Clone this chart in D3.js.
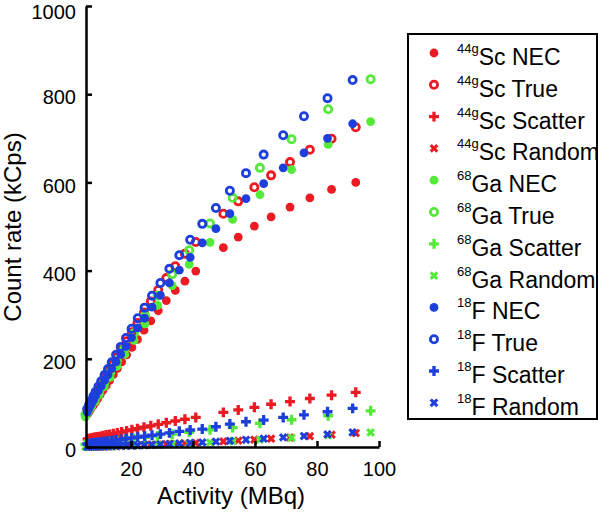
<!DOCTYPE html>
<html><head><meta charset="utf-8">
<script src="https://cdn.jsdelivr.net/npm/d3@7"></script>
<style>body{margin:0;background:#fff}svg{display:block;font-family:"Liberation Sans",Arial,sans-serif}</style>
</head><body><svg id="c" width="598" height="515"></svg>
<script>
// ---- data (activity in MBq, count rates in kCps) ----
const scX = [6.0,6.5,7.1,7.8,8.5,9.2,10.1,11.0,12.0,13.1,14.3,15.6,17.0,18.6,20.3,22.1,24.2,26.4,28.8,31.4,34.3,37.4,40.9,49.8,54.6,59.8,65.2,71.3,77.7,84.7,92.5];
const scNEC = [75,80,87,94,101,109,119,129,139,151,164,178,193,209,226,244,265,286,309,332,355,376,399,452,476,501,522,544,565,584,600];
const scTrue = [85,91,99,107,116,125,136,147,159,173,188,204,221,240,260,281,305,330,356,383,410,438,465,529,557,589,616,646,674,699,725];
const scScatter = [18,19,20,21,22,23,24,25.5,27,28.5,30,32,34,36.5,39,41.5,45,48,51.5,55,59,63,67,78.5,84,90,97,103,110,117.5,124];
const scRandom = [0.5,0.6,0.7,0.8,0.9,1.0,1.1,1.3,1.5,1.7,1.9,2.2,2.5,2.9,3.3,3.7,4.3,4.8,5.5,6.3,7.2,8.2,9.3,12.5,14.4,16.5,18.8,21.5,24.4,27.8,31.7];

const gaX = [5.3,6.2,7.2,8.4,9.8,11.4,13.3,15.5,18.0,21.0,24.5,28.6,33.3,38.8,45.5,52.8,61.6,71.8,83.6,97.3];
const gaNEC = [68,79,90,103,119,137,158,183,210,242,279,321,366,414,464,516,572,629,686,738];
const gaTrue = [73,84,96,110,127,146,169,195,224,258,298,343,392,446,507,565,633,698,766,834];
const gaScatter = [5.8,6.5,7.3,8.3,9.5,10.8,12.4,14.2,16.3,18.8,21.7,25,29,33.5,39,44,53.6,61.8,70.8,82];
const gaRandom = [0.4,0.5,0.6,0.8,1.0,1.3,1.7,2.1,2.6,3.3,4.2,5.3,6.6,8.3,10.5,13.2,16.6,20.9,26.3,33];

const fX = [5.9,6.5,7.2,7.9,8.6,9.5,10.4,11.5,12.6,13.8,15.2,16.7,18.4,20.2,22.2,24.4,26.8,29.5,32.4,35.6,39.1,43.0,47.4,51.9,57.1,62.8,69.1,75.8,83.4,91.5];
const fNEC = [79,88,97,106,116,127,138,151,164,178,193,210,228,248,270,292,317,344,372,401,430,463,495,529,563,597,633,667,700,733];
const fTrue = [86,95,105,115,125,137,149,163,177,192,209,227,247,268,292,316,343,372,404,435,470,506,542,581,621,663,707,750,791,832];
const fScatter = [7.1,7.6,8.3,8.9,9.6,10.4,11.3,12.3,13.3,14.5,15.8,17.2,18.8,20.5,22.4,24.4,26.7,29.2,32,35.5,38.5,40.7,45.9,52,57.2,61,67,73,80,87.6];
const fRandom = [0.5,0.6,0.7,0.8,0.9,1.1,1.2,1.4,1.6,1.9,2.2,2.5,2.9,3.4,3.9,4.5,5.2,6.0,6.9,8.0,9.2,10.6,12.3,14.1,16.3,18.8,21.7,24.9,28.7,33];

const xTicks = [20,40,60,80,100];
const yTicks = [0,200,400,600,800,1000];
const isotopes = ["44g","68","18"];
const elements = ["Sc","Ga","F"];
const kinds = ["NEC","True","Scatter","Random"];
const colors = ["#ea1b22","#55ea3a","#1d3fdc"];

const series = [
  {iso:0, kind:0, x:scX, y:scNEC},{iso:0, kind:1, x:scX, y:scTrue},{iso:0, kind:2, x:scX, y:scScatter},{iso:0, kind:3, x:scX, y:scRandom},
  {iso:1, kind:0, x:gaX, y:gaNEC},{iso:1, kind:1, x:gaX, y:gaTrue},{iso:1, kind:2, x:gaX, y:gaScatter},{iso:1, kind:3, x:gaX, y:gaRandom},
  {iso:2, kind:0, x:fX, y:fNEC},{iso:2, kind:1, x:fX, y:fTrue},{iso:2, kind:2, x:fX, y:fScatter},{iso:2, kind:3, x:fX, y:fRandom}
];

// ---- layout ----
const svg = d3.select("#c");
const x = d3.scaleLinear().domain([5.5,100]).range([86,379]);
const y = d3.scaleLinear().domain([0,1000]).range([447,6]);

const cross = d3.symbol().type(d3.symbolCross).size(55);
const xmark = d3.symbol().type(d3.symbolCross).size(48);

function drawMarker(g, kind, color){
  if(kind===0){ g.append("circle").attr("r",4.4).attr("fill",color); }
  else if(kind===1){ g.append("circle").attr("r",3.6).attr("fill","none").attr("stroke",color).attr("stroke-width",2.8); }
  else if(kind===2){ g.append("path").attr("d",cross()).attr("fill",color); }
  else { g.append("path").attr("d",xmark()).attr("fill",color).attr("transform","rotate(45)"); }
}

const plot = svg.append("g");
series.forEach(s=>{
  const pts = s.x.map((v,i)=>[v,s.y[i]]);
  pts.forEach(p=>{
    const g = plot.append("g").attr("transform",`translate(${x(p[0])},${y(p[1])})`);
    drawMarker(g, s.kind, colors[s.iso]);
  });
});

// axes
const ax = svg.append("g").attr("transform",`translate(0,${y(0)})`)
  .call(d3.axisBottom(x).tickValues(xTicks).tickSizeInner(-6).tickSizeOuter(0).tickPadding(29));
const ay = svg.append("g").attr("transform",`translate(${x(5.5)},0)`)
  .call(d3.axisLeft(y).tickValues(yTicks).tickFormat(d3.format("d")).tickSizeInner(-6).tickSizeOuter(0).tickPadding(10));
[ax,ay].forEach(a=>{
  a.select(".domain").attr("stroke","#000").attr("stroke-width",2.5);
  a.selectAll(".tick line").attr("stroke","#000").attr("stroke-width",2.5);
  a.selectAll(".tick text").attr("fill","#000").style("font-size","20px").style("font-family","Liberation Sans, Arial, sans-serif");
});
ax.selectAll(".tick text").attr("dy","0");
ay.selectAll(".tick text").attr("dy",d=>d===1000?"0.62em":"0.48em");

svg.append("text").attr("x",231).attr("y",504).attr("text-anchor","middle")
  .style("font-size","24px").text("Activity (MBq)");
svg.append("text").attr("transform","translate(21,227) rotate(-90)").attr("text-anchor","middle")
  .style("font-size","24px").text("Count rate (kCps)");

// legend
const lg = svg.append("g");
lg.append("rect").attr("x",408).attr("y",34).attr("width",189).attr("height",385)
  .attr("fill","#fff").attr("stroke","#000").attr("stroke-width",2);
const legendItems = [];
isotopes.forEach((iso,i)=>kinds.forEach((k,j)=>legendItems.push({iso:i,kind:j,label:k})));
legendItems.forEach((d,i)=>{
  const cy = 53 + i*31.8;
  const m = lg.append("g").attr("transform",`translate(434,${cy})`);
  drawMarker(m, d.kind, colors[d.iso]);
  const t = lg.append("text").attr("x",457).attr("y",cy+12).style("font-size","23px").attr("fill","#000");
  t.append("tspan").style("font-size","13px").attr("dy","-12").text(isotopes[d.iso]);
  t.append("tspan").attr("dy","12").text(elements[d.iso]+" "+d.label);
});
</script></body></html>
